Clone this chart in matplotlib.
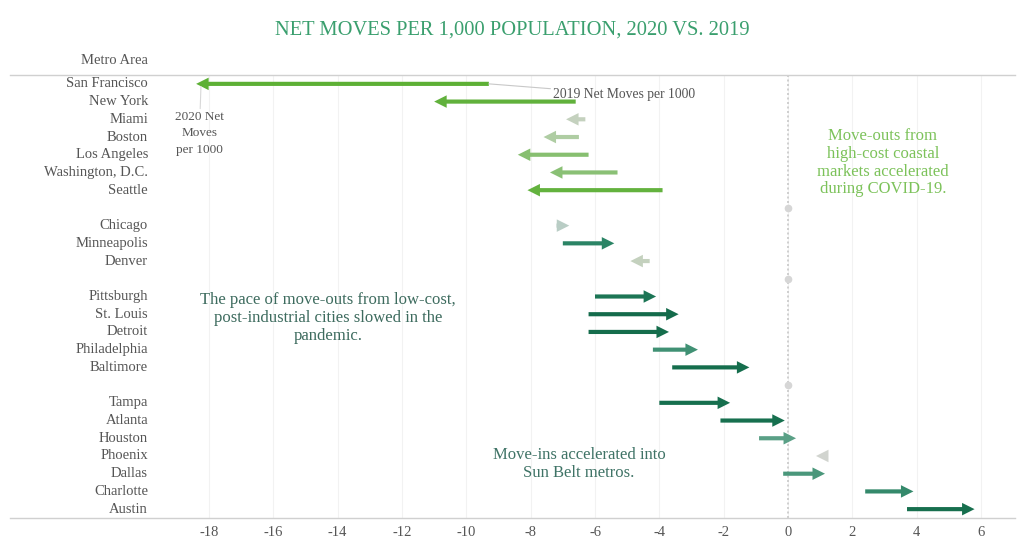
import matplotlib
matplotlib.use("Agg")
import matplotlib.pyplot as plt
from matplotlib.colors import LinearSegmentedColormap, Normalize
import numpy as np

metros = ["San Francisco", "New York", "Miami", "Boston", "Los Angeles", "Washington, D.C.", "Seattle",
          None,
          "Chicago", "Minneapolis", "Denver",
          None,
          "Pittsburgh", "St. Louis", "Detroit", "Philadelphia", "Baltimore",
          None,
          "Tampa", "Atlanta", "Houston", "Phoenix", "Dallas", "Charlotte", "Austin"]
moves_2019 = [-9.3, -6.6, -6.3, -6.5, -6.2, -5.3, -3.9,
              None,
              -7.2, -7.0, -4.3,
              None,
              -6.0, -6.2, -6.2, -4.2, -3.6,
              None,
              -4.0, -2.1, -0.9, 1.15, -0.15, 2.4, 3.7]
moves_2020 = [-18.4, -11.0, -6.9, -7.6, -8.4, -7.4, -8.1,
              None,
              -6.8, -5.4, -4.9,
              None,
              -4.1, -3.4, -3.7, -2.8, -1.2,
              None,
              -1.8, -0.1, 0.25, 0.87, 1.15, 3.9, 5.8]
xticks = [-18, -16, -14, -12, -10, -8, -6, -4, -2, 0, 2, 4, 6]

serif = ["Liberation Serif", "DejaVu Serif"]
plt.rcParams['font.family'] = serif

W, H = 1024, 558
fig = plt.figure(figsize=(W / 100, H / 100), dpi=100)
ax_l, ax_r, ax_t, ax_b = 10, 1015, 75, 518
ax = fig.add_axes([ax_l / W, 1 - ax_b / H, (ax_r - ax_l) / W, (ax_b - ax_t) / H])

px_per_unit = (788 - 209) / 18.0
x0 = -(788 - ax_l) / px_per_unit
x1 = (ax_r - 788) / px_per_unit
ax.set_xlim(x0, x1)
n = len(metros)
ax.set_ylim(n - 0.5, -0.5)
label_x = x0 + (148 - ax_l) / px_per_unit

# colour scale by change
nodes = [(-5, "#5db035"), (-3, "#6cb44b"), (-2, "#8ec27a"), (-1, "#b3cea8"), (-0.3, "#d2d4d0"),
         (0.4, "#b9cdc5"), (1.1, "#5fa38a"), (1.6, "#2c8566"), (2.0, "#17704f"), (3.0, "#136a4a")]
vmin, vmax = nodes[0][0], nodes[-1][0]
cmap = LinearSegmentedColormap.from_list(
    "chg", [((v - vmin) / (vmax - vmin), c) for v, c in nodes])
norm = Normalize(vmin, vmax, clip=True)

# grid
for t in xticks:
    ax.axvline(t, color="#f2f2f2", lw=0.8, zorder=0)
ax.axvline(0, color="#c8c8c8", lw=1.2, ls=(0, (1.2, 1.5)), zorder=1)

for i, (name, a, b) in enumerate(zip(metros, moves_2019, moves_2020)):
    if name is None:
        ax.plot([0], [i], "o", color="#d6d6d6", ms=4.5, zorder=2)
        continue
    ax.text(label_x, i, name, ha="right", va="center",
            fontsize=10.5, color="#555555")
    col = cmap(norm(b - a))
    ax.annotate("", xy=(b, i), xytext=(a, i),
                arrowprops=dict(arrowstyle="simple,head_length=0.9,head_width=0.9,tail_width=0.3",
                                lw=0, fc=col, ec="none", shrinkA=0, shrinkB=0,
                                mutation_scale=10), zorder=3)

ax.set_xticks(xticks)
ax.set_xticklabels([str(t) for t in xticks], fontsize=10.5, color="#555555")
ax.tick_params(axis="x", length=0, pad=6)
ax.set_yticks([])
for s in ["left", "right"]:
    ax.spines[s].set_visible(False)
for s in ["top", "bottom"]:
    ax.spines[s].set_color("#d0d0d0")
    ax.spines[s].set_linewidth(1.0)

# header
ax.text(label_x, -1.3, "Metro Area", ha="right", va="center",
        fontsize=10.5, color="#555555", clip_on=False)

# title
fig.text(0.5, 1 - 30 / H, "NET MOVES PER 1,000 POPULATION, 2020 VS. 2019", ha="center",
         va="center", fontsize=14.8, color="#3a9f6e")

# annotations
ax.annotate("2019 Net Moves per 1000", xy=(moves_2019[0], 0), xytext=(-7.3, 0.6),
            fontsize=9.8, color="#555555", ha="left", va="center",
            arrowprops=dict(arrowstyle="-", color="#c8c8c8", lw=0.8, shrinkA=0, shrinkB=0))
ax.annotate("2020 Net\nMoves\nper 1000", xy=(moves_2020[0] + 0.15, 0.15), xytext=(-18.3, 2.8),
            fontsize=9.5, color="#555555", ha="center", va="center", linespacing=1.45,
            arrowprops=dict(arrowstyle="-", color="#d8d8d8", lw=0.8, shrinkA=16, shrinkB=0))
ax.text(2.95, 4.45, "Move-outs from\nhigh-cost coastal\nmarkets accelerated\nduring COVID-19.",
        ha="center", va="center", fontsize=12, color="#7cc25a", linespacing=1.15)
ax.text(-14.3, 13.2, "The pace of move-outs from low-cost,\npost-industrial cities slowed in the\npandemic.",
        ha="center", va="center", fontsize=12, color="#3d6b5e", linespacing=1.15)
ax.text(-6.5, 21.45, "Move-ins accelerated into\nSun Belt metros.",
        ha="center", va="center", fontsize=12, color="#3f7366", linespacing=1.15)

fig.savefig("out.png", dpi=100, facecolor="white")
